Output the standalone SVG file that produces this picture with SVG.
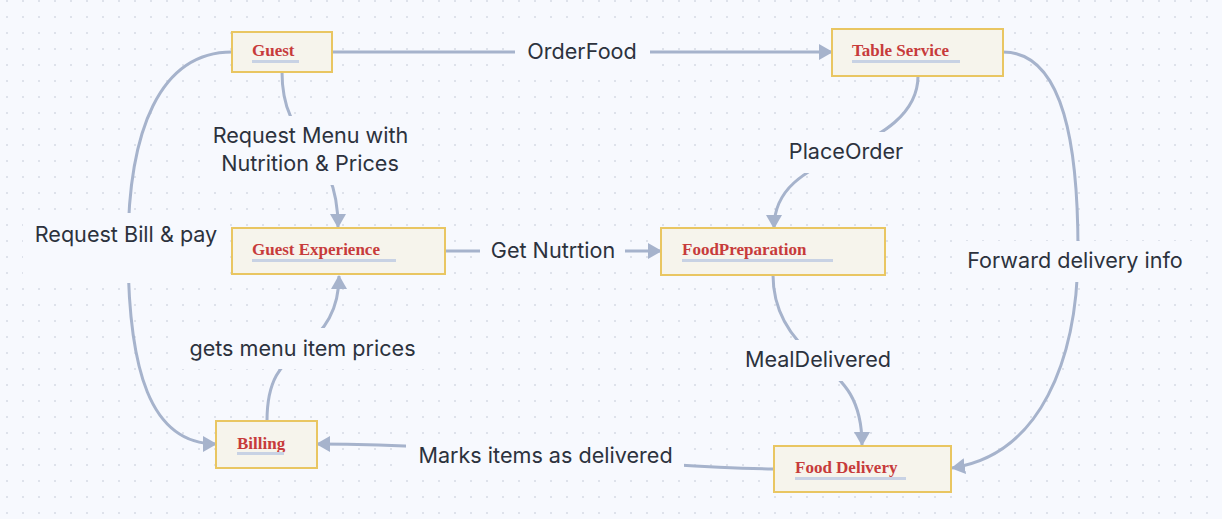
<svg xmlns="http://www.w3.org/2000/svg" width="1222" height="519" viewBox="0 0 1222 519">
<defs>
<pattern id="dots" width="16" height="16" patternUnits="userSpaceOnUse">
<circle cx="7" cy="1" r="1" fill="#d6dbe4"/>
</pattern>
<marker id="arr" markerUnits="userSpaceOnUse" markerWidth="14" markerHeight="16" refX="13" refY="8" orient="auto">
<path d="M0,0 L14,8 L0,16 z" fill="#a6b3cc"/>
</marker>
<style>
.edge{fill:none;stroke:#a6b3cc;stroke-width:3;}
.lbg{fill:#f7f9fe;}
.lbl{font-family:Inter,"Noto Sans",sans-serif;font-size:21.6px;fill:#2c323d;text-anchor:middle;}
.box{fill:#f6f4ec;stroke:#e9c662;stroke-width:2;}
.ttl{font-family:"Liberation Serif","Times New Roman",serif;font-weight:bold;font-size:17px;fill:#c73b3b;}
.ul{fill:#c8d2e4;}
</style>
</defs>
<rect width="1222" height="519" fill="#f7f9fe"/>
<rect width="1222" height="519" fill="url(#dots)"/>

<g id="connectors">
<path class="edge" d="M332,52 L832,52" marker-end="url(#arr)"/>
<path class="edge" d="M282,72 C282,150 338,140 338,227" marker-end="url(#arr)"/>
<path class="edge" d="M446,251 L661,251" marker-end="url(#arr)"/>
<path class="edge" d="M918,76 C918,115 880,135 846,152 C810,170 774,185 774,228" marker-end="url(#arr)"/>
<path class="edge" d="M773,275 C773,310 790,338 818,360 C845,382 862,400 862,445" marker-end="url(#arr)"/>
<path class="edge" d="M1003,52 C1065,52 1078,150 1078,250 C1078,360 1040,455 952,468" marker-end="url(#arr)"/>
<path class="edge" d="M232,52 C160,52 128,130 128,248 C128,370 150,444 216,444" marker-end="url(#arr)"/>
<path class="edge" d="M774,469 C620,466 480,444 317,444" marker-end="url(#arr)"/>
<path class="edge" d="M267,421 C267,380 280,365 303,348 C325,330 339,310 339,276" marker-end="url(#arr)"/>

<rect class="lbg" x="515" y="32" width="135" height="40"/>
<text class="lbl" x="582" y="59">OrderFood</text>
<rect class="lbg" x="201" y="116" width="219" height="69"/>
<text class="lbl" x="310.5" y="143">Request Menu with</text>
<text class="lbl" x="310" y="171">Nutrition &amp; Prices</text>
<rect class="lbg" x="480" y="231" width="145" height="40"/>
<text class="lbl" x="553" y="258">Get Nutrtion</text>
<rect class="lbg" x="778" y="132" width="136" height="41"/>
<text class="lbl" x="846" y="159">PlaceOrder</text>
<rect class="lbg" x="735" y="340" width="166" height="41"/>
<text class="lbl" x="818" y="367">MealDelivered</text>
<rect class="lbg" x="23" y="213" width="206" height="70"/>
<text class="lbl" x="126" y="242">Request Bill &amp; pay</text>
<rect class="lbg" x="956" y="241" width="238" height="41"/>
<text class="lbl" x="1075" y="268">Forward delivery info</text>
<rect class="lbg" x="406" y="436" width="278" height="41"/>
<text class="lbl" x="545.5" y="463">Marks items as delivered</text>
<rect class="lbg" x="178" y="328" width="249" height="41"/>
<text class="lbl" x="302.5" y="356">gets menu item prices</text>
</g>

<g id="guest">
<rect class="box" x="232" y="32" width="100" height="40"/>
<text class="ttl" x="252" y="56">Guest</text>
<rect class="ul" x="252" y="60" width="47" height="3"/>
</g>
<g id="table-service">
<rect class="box" x="832" y="29" width="171" height="47"/>
<text class="ttl" x="852" y="56">Table Service</text>
<rect class="ul" x="852" y="60" width="108" height="3"/>
</g>
<g id="guest-experience">
<rect class="box" x="232" y="228" width="213" height="46"/>
<text class="ttl" x="252" y="255">Guest Experience</text>
<rect class="ul" x="252" y="259" width="144" height="3"/>
</g>
<g id="food-preparation">
<rect class="box" x="661" y="228" width="224" height="47"/>
<text class="ttl" x="682" y="255">FoodPreparation</text>
<rect class="ul" x="682" y="259" width="151" height="3"/>
</g>
<g id="billing">
<rect class="box" x="216" y="421" width="101" height="47"/>
<text class="ttl" x="237" y="449">Billing</text>
<rect class="ul" x="237" y="452" width="47" height="3"/>
</g>
<g id="food-delivery">
<rect class="box" x="774" y="446" width="177" height="46"/>
<text class="ttl" x="795" y="473">Food Delivery</text>
<rect class="ul" x="795" y="477" width="111" height="3"/>
</g>
</svg>
